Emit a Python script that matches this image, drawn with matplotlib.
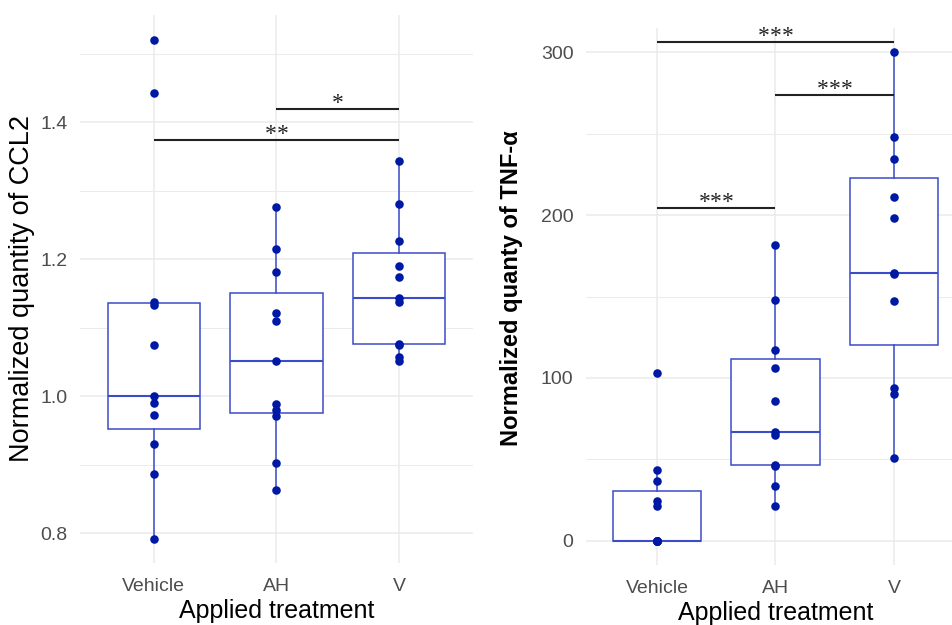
import numpy as np
import matplotlib
matplotlib.use("Agg")
import matplotlib.pyplot as plt
from matplotlib.ticker import MultipleLocator

# ---- data ----
groups = ["Vehicle", "AH", "V"]

ccl2_vehicle = [1.520, 1.443, 1.138, 1.134, 1.075, 1.000, 0.990, 0.973, 0.931, 0.887, 0.792]
ccl2_ah = [1.277, 1.215, 1.181, 1.121, 1.110, 1.051, 0.989, 0.980, 0.971, 0.902, 0.863]
ccl2_v = [1.343, 1.281, 1.227, 1.191, 1.174, 1.144, 1.138, 1.077, 1.075, 1.058, 1.051]

tnf_vehicle = [102.7, 43.4, 36.4, 24.2, 21.5, 0, 0, 0, 0, 0, 0]
tnf_ah = [181.8, 147.7, 117.0, 106.1, 85.9, 66.7, 64.8, 46.6, 46.0, 33.6, 21.1]
tnf_v = [300.0, 248.3, 234.4, 211.3, 198.2, 164.6, 163.6, 147.0, 93.9, 90.0, 50.5]

# significance brackets: (group a, group b, height, label)
ccl2_sig = [(1, 3, 1.374, "**"), (2, 3, 1.420, "*")]
tnf_sig = [(1, 2, 204.3, "***"), (2, 3, 274.0, "***"), (1, 3, 306.2, "***")]

point_col = "#0019a4"
box_col = "#3a4cc8"
grid_col = "#ebebeb"
W, H = 953, 625


def draw_panel(ax, data, sig, ylim, major, minor, ylabel, bold):
    pos = [1, 2, 3]
    ax.boxplot(data, positions=pos, widths=0.75, showfliers=False,
               showcaps=False, patch_artist=True,
               boxprops=dict(facecolor="white", edgecolor=box_col, linewidth=1.1),
               medianprops=dict(color=box_col, linewidth=1.5),
               whiskerprops=dict(color=box_col, linewidth=1.1),
               zorder=2)
    for p, vals in zip(pos, data):
        ax.scatter([p] * len(vals), vals, s=38, color=point_col, zorder=3, linewidths=0)

    for a, b, y, lab in sig:
        ax.plot([a, b], [y, y], color="#222222", lw=1.5, zorder=4, solid_capstyle="butt")
        # stars drawn one by one, ~12 px apart like the original
        n = len(lab)
        for i, ch in enumerate(lab):
            dx = (i - (n - 1) / 2) * 8.6
            ax.annotate(ch, xy=((a + b) / 2, y), xytext=(dx, 0), textcoords="offset points",
                        ha="center", va="baseline", fontsize=17,
                        family="Liberation Serif", color="#222222")

    ax.set_xlim(0.4, 3.6)
    ax.set_ylim(*ylim)
    ax.set_xticks(pos)
    ax.set_xticklabels(groups)
    ax.yaxis.set_major_locator(MultipleLocator(major))
    ax.yaxis.set_minor_locator(MultipleLocator(minor))
    ax.grid(True, which="major", color=grid_col, lw=1.1, zorder=0)
    ax.grid(True, which="minor", axis="y", color=grid_col, lw=0.7, zorder=0)
    ax.set_axisbelow(True)
    for s in ax.spines.values():
        s.set_visible(False)
    ax.tick_params(which="both", length=0, labelsize=14, labelcolor="#4d4d4d")
    ax.tick_params(axis="y", pad=9)
    ax.tick_params(axis="x", pad=10.5)
    ax.set_xlabel("Applied treatment", fontsize=18, labelpad=3)
    if bold:
        ax.set_ylabel(ylabel, fontsize=17, fontweight="bold", labelpad=8)
    else:
        ax.set_ylabel(ylabel, fontsize=19.5, labelpad=4)


plt.rcParams["font.family"] = ["Liberation Sans", "DejaVu Sans"]
fig = plt.figure(figsize=(W / 100, H / 100), dpi=100)

ax1 = fig.add_axes([80 / W, 1 - 563 / H, 393 / W, 548 / H])
draw_panel(ax1, [ccl2_vehicle, ccl2_ah, ccl2_v], ccl2_sig, (0.7567, 1.5567), 0.2, 0.1,
           "Normalized quantity of CCL2", False)
ax1.yaxis.set_major_formatter(matplotlib.ticker.FormatStrFormatter("%.1f"))

ax2 = fig.add_axes([586 / W, 1 - 565 / H, 379 / W, 537 / H])
draw_panel(ax2, [tnf_vehicle, tnf_ah, tnf_v], tnf_sig, (-15, 315), 100, 50,
           "Normalized quanty of TNF-α", True)
ax2.yaxis.set_label_coords(-0.165, 0.515)

fig.savefig("out.png", dpi=100)
